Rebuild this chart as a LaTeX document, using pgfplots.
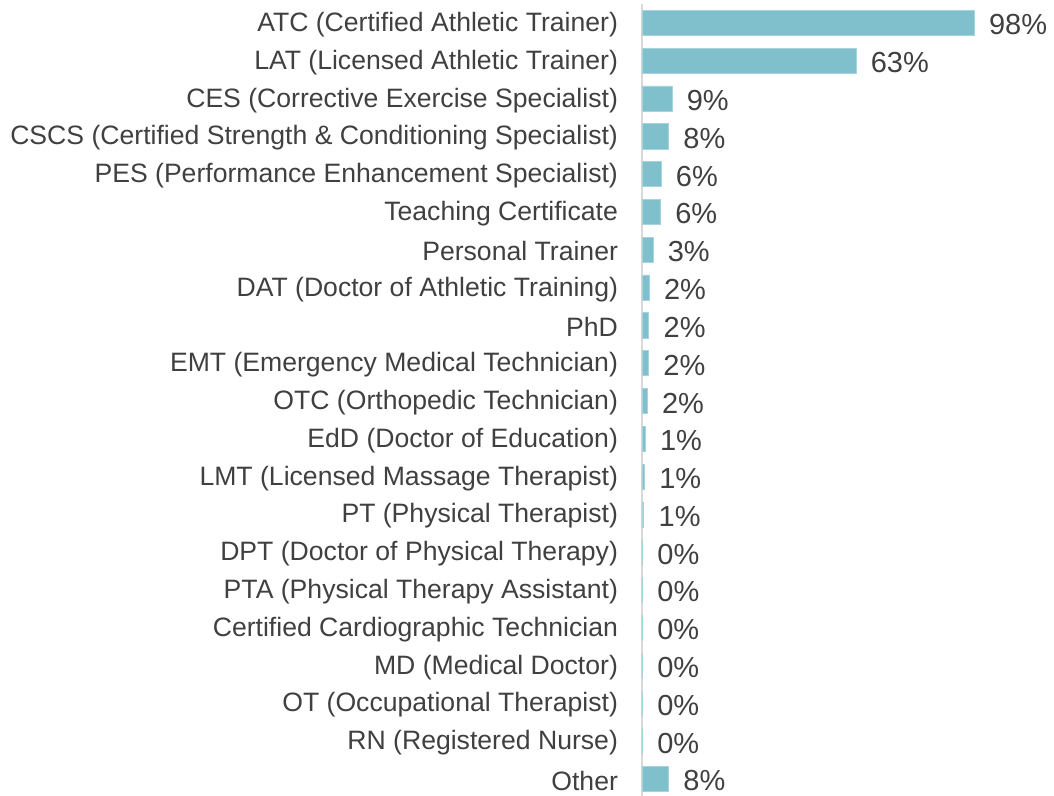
\documentclass[border=0pt]{standalone}
\usepackage{pgfplots}
\pgfplotsset{compat=1.18}
\usepackage{fontspec}
\setmainfont{Liberation Sans}

\definecolor{barc}{RGB}{128,192,205}
\definecolor{txt}{RGB}{64,64,64}
\definecolor{axc}{RGB}{217,217,217}

\begin{document}
\begin{tikzpicture}
\useasboundingbox (0,0) rectangle (527pt,398pt);
\begin{axis}[
    at={(321pt,395.95pt)},
    anchor=north west,
    scale only axis,
    width=203.3pt,
    height=396.9pt,
    xbar,
    bar width=12.6pt,
    xmin=0, xmax=120,
    ymin=-0.5, ymax=20.5,
    y dir=reverse,
    axis lines*=left,
    x axis line style={draw=none},
    y axis line style={draw=axc, line width=1pt},
    xtick=\empty,
    ytick={0,...,20},
    major tick length=0pt,
    yticklabel style={font=\fontsize{13.3}{15}\selectfont, text=txt, xshift=-8.5pt, yshift=-0.8pt},
    yticklabels={
        ATC (Certified Athletic Trainer),
        LAT (Licensed Athletic Trainer),
        CES (Corrective Exercise Specialist),
        CSCS (Certified Strength \& Conditioning Specialist),
        PES (Performance Enhancement Specialist),
        Teaching Certificate,
        Personal Trainer,
        DAT (Doctor of Athletic Training),
        PhD,
        EMT (Emergency Medical Technician),
        OTC (Orthopedic Technician),
        EdD (Doctor of Education),
        LMT (Licensed Massage Therapist),
        PT (Physical Therapist),
        DPT (Doctor of Physical Therapy),
        PTA (Physical Therapy Assistant),
        Certified Cardiographic Technician,
        MD (Medical Doctor),
        OT (Occupational Therapist),
        RN (Registered Nurse),
        Other},
    point meta=explicit symbolic,
    nodes near coords,
    nodes near coords style={font=\fontsize{14.5}{17}\selectfont, text=txt, anchor=west, xshift=4pt, yshift=-1pt},
    clip=false,
]
\addplot[fill=barc, draw=barc!70!white, line width=0.3pt] coordinates {
(98,0) [98\%]
(63.1,1) [63\%]
(8.8,2) [9\%]
(7.8,3) [8\%]
(5.6,4) [6\%]
(5.4,5) [6\%]
(3.2,6) [3\%]
(2.1,7) [2\%]
(2.0,8) [2\%]
(1.9,9) [2\%]
(1.5,10) [2\%]
(0.9,11) [1\%]
(0.7,12) [1\%]
(0.5,13) [1\%]
(0.15,14) [0\%]
(0.15,15) [0\%]
(0.1,16) [0\%]
(0.1,17) [0\%]
(0.1,18) [0\%]
(0.1,19) [0\%]
(7.8,20) [8\%]
};
\end{axis}
\end{tikzpicture}
\end{document}
